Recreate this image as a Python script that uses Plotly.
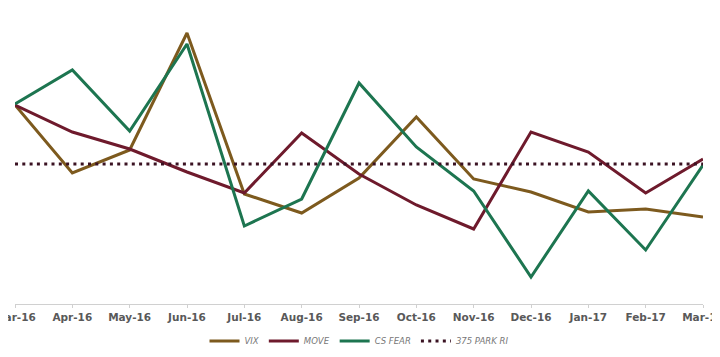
import plotly.graph_objects as go

months = ["Mar-16", "Apr-16", "May-16", "Jun-16", "Jul-16", "Aug-16", "Sep-16",
          "Oct-16", "Nov-16", "Dec-16", "Jan-17", "Feb-17", "Mar-17"]
vix = [19.9, 13.1, 15.4, 27.1, 11.0, 9.1, 12.6, 18.7, 12.5, 11.2, 9.2, 9.5, 8.7]
move = [19.9, 17.2, 15.5, 13.2, 11.1, 17.1, 13.0, 9.9, 7.5, 17.2, 15.2, 11.1, 14.5]
cs_fear = [20.0, 23.4, 17.3, 26.0, 7.8, 10.5, 22.1, 15.7, 11.3, 2.7, 11.3, 5.4, 13.9]
park_ri = [14.0] * len(months)

fig = go.Figure()
fig.add_trace(go.Scatter(x=months, y=vix, name="VIX", mode="lines",
                         line=dict(color="#7d5a1e", width=3)))
fig.add_trace(go.Scatter(x=months, y=move, name="MOVE", mode="lines",
                         line=dict(color="#6e1a2c", width=3)))
fig.add_trace(go.Scatter(x=months, y=cs_fear, name="CS FEAR", mode="lines",
                         line=dict(color="#1d7550", width=3)))
fig.add_trace(go.Scatter(x=months, y=park_ri, name="375 PARK RI", mode="lines",
                         line=dict(color="#3a1222", width=3, dash="3px,4.3px")))

# page body has an 8px default margin; margins compensate so the plot sits where the reference does
fig.update_layout(
    width=720, height=357,
    margin=dict(l=7, r=25, t=0, b=61),
    paper_bgcolor="white", plot_bgcolor="white",
    showlegend=True,
    legend=dict(orientation="h", x=0.5, xanchor="center", y=-0.125, yanchor="middle",
                font=dict(family="DejaVu Sans", size=8.5, color="#777777", style="italic"),
                itemwidth=30, tracegroupgap=0),
    xaxis=dict(type="category", range=[0, len(months) - 1], showgrid=False,
               showline=True, linecolor="#d0d0d0", linewidth=1,
               ticks="outside", ticklen=3, tickcolor="#d0d0d0",
               tickfont=dict(family="DejaVu Sans", size=10.5, color="#595959", weight="bold"),
               zeroline=False, fixedrange=True, automargin=False),
    yaxis=dict(range=[0, 29.6], visible=False, showgrid=False, zeroline=False,
               automargin=False),
)

fig.write_html("out.html")
